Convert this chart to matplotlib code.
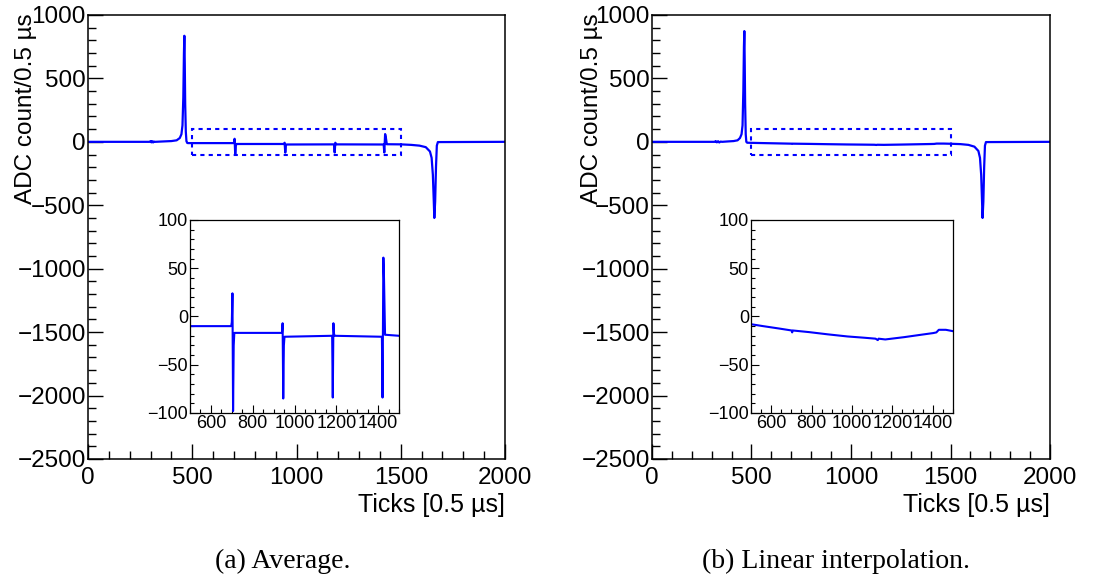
import matplotlib
matplotlib.use("Agg")
import matplotlib.pyplot as plt
from matplotlib.ticker import MultipleLocator
from matplotlib.patches import Rectangle

# ---- data (ticks [0.5 us], ADC counts) ----
avg_ticks = [0, 295, 300, 304, 308, 312, 316, 322, 360, 400, 425, 440, 448, 453, 457, 460, 462,
             464, 466, 469, 472, 476, 480,
             697, 700, 703, 706, 709, 712,
             940, 943, 946, 949, 952,
             1180, 1183, 1186, 1189, 1192,
             1418, 1421, 1425, 1428, 1433, 1438,
             1500, 1550, 1590, 1620, 1640, 1648, 1654, 1658, 1661, 1665, 1669, 1673, 1678, 2000]
avg_adc = [0, 0, 6, -4, 5, -5, 2, 0, 3, 6, 12, 30, 60, 130, 350, 700, 836,
           620, 300, 80, 5, -9, -10,
           -10, -6, 24, -98, -30, -17,
           -17, -7, -85, -30, -21,
           -20, -84, -7, -18, -20,
           -21, -84, 61, 40, -19, -19,
           -20, -24, -30, -42, -76, -126, -260, -450, -600, -470, -200, -30, -2, 0]

lin_ticks = [0, 315, 320, 326, 332, 338, 345, 352, 380, 410, 430, 442, 450, 455, 459, 462, 464,
             466, 468, 471, 474, 478, 500, 560, 640, 701, 704, 707, 788, 880, 978, 1060, 1117,
             1128, 1132, 1165, 1259, 1340, 1402, 1418, 1430, 1465, 1500,
             1550, 1590, 1620, 1640, 1648, 1654, 1658, 1661, 1665, 1669, 1673, 1678, 2000]
lin_adc = [0, 0, 6, -4, 5, -5, 2, 0, 3, 6, 12, 30, 60, 130, 400, 750, 873,
           620, 300, 60, 0, -7, -8, -10, -12.5, -14.5, -16.5, -14.5, -16.2, -18.5, -20.7, -22, -23,
           -24.5, -23, -23.8, -21.4, -19, -17.2, -16.5, -13.8, -13.8, -15.2,
           -18, -24, -38, -72, -126, -260, -450, -600, -470, -200, -30, -2, 0]

zoom_x = (500, 1500)
zoom_y = (-100, 100)
captions = ["(a) Average.", "(b) Linear interpolation."]

BLUE = "#0000ff"
SANS = ["Liberation Sans", "DejaVu Sans"]
plt.rcParams["font.family"] = SANS

fig = plt.figure(figsize=(11.06, 5.78), dpi=100)

main_pos = [[0.0796, 0.2059, 0.3770, 0.7682], [0.5895, 0.2059, 0.3599, 0.7682]]
inset_pos = [[0.1718, 0.2855, 0.1890, 0.3339], [0.6790, 0.2855, 0.1826, 0.3339]]
cap_x = [0.256, 0.756]
ylab_x = [-0.122, -0.122]
series = [(avg_ticks, avg_adc), (lin_ticks, lin_adc)]

for i in range(2):
    xs, ys = series[i]

    ax = fig.add_axes(main_pos[i])
    ax.plot(xs, ys, color=BLUE, lw=1.6)
    ax.set_xlim(0, 2000)
    ax.set_ylim(-2500, 1000)
    ax.xaxis.set_major_locator(MultipleLocator(500))
    ax.xaxis.set_minor_locator(MultipleLocator(100))
    ax.yaxis.set_major_locator(MultipleLocator(500))
    ax.yaxis.set_minor_locator(MultipleLocator(100))
    ax.tick_params(which="both", direction="in", top=False, right=False, width=1.0)
    ax.tick_params(which="major", length=11)
    ax.tick_params(which="minor", length=6)
    ax.tick_params(axis="x", labelsize=17.5, pad=6)
    ax.tick_params(axis="y", labelsize=17.5, pad=1.5)
    for sp in ax.spines.values():
        sp.set_linewidth(1.1)
    ax.set_xlabel("Ticks [0.5 µs]", fontsize=18, loc="right")
    ax.xaxis.set_label_coords(1.0, -0.076)
    ax.set_ylabel("ADC count/0.5 µs", fontsize=17.5, loc="top")
    ax.yaxis.set_label_coords(ylab_x[i], 1.003)

    # dotted box marking the zoomed window
    ax.add_patch(Rectangle((zoom_x[0], zoom_y[0]), zoom_x[1] - zoom_x[0], zoom_y[1] - zoom_y[0],
                           fill=False, edgecolor=BLUE, lw=1.5, linestyle=(0, (2, 2))))

    ins = fig.add_axes(inset_pos[i])
    ins.plot(xs, ys, color=BLUE, lw=1.5)
    ins.set_xlim(*zoom_x)
    ins.set_ylim(*zoom_y)
    ins.xaxis.set_major_locator(MultipleLocator(200))
    ins.xaxis.set_minor_locator(MultipleLocator(50))
    ins.yaxis.set_major_locator(MultipleLocator(50))
    ins.yaxis.set_minor_locator(MultipleLocator(10))
    ins.tick_params(which="both", direction="in", top=False, right=False, width=0.8,
                    labelsize=13, pad=1.5)
    ins.tick_params(which="major", length=5.5)
    ins.tick_params(which="minor", length=3)
    for sp in ins.spines.values():
        sp.set_linewidth(0.9)

    fig.text(cap_x[i], 0.018, captions[i], ha="center", va="baseline",
             fontsize=20, family=["Liberation Serif", "DejaVu Serif"])

fig.savefig("out.png", dpi=100)
